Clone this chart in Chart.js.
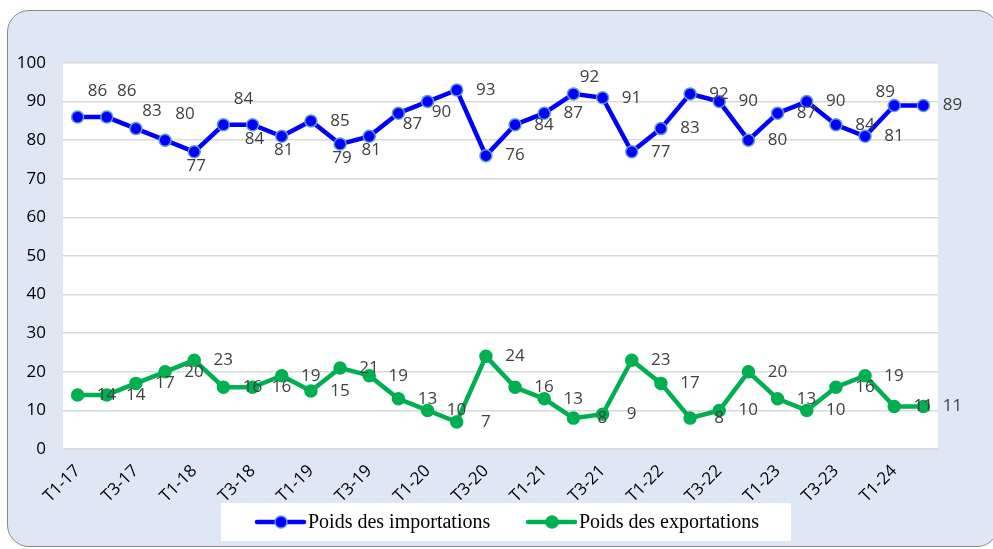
<!DOCTYPE html>
<html>
<head>
<meta charset="utf-8">
<script src="https://cdn.jsdelivr.net/npm/chart.js@4"></script>
<style>
  html, body { margin:0; padding:0; background:#ffffff; width:993px; height:549px; overflow:hidden; }
  #panel { position:absolute; left:7px; top:10px; width:992px; height:537px; background:#dde8f4;
           border:1.5px solid #8a8a8a; border-radius:22px; box-sizing:border-box; }
  #c { position:absolute; left:0; top:0; }
</style>
</head>
<body>
<div id="panel"></div>
<canvas id="c" width="993" height="549"></canvas>
<script>
const categories = [
  'T1-17','T2-17','T3-17','T4-17',
  'T1-18','T2-18','T3-18','T4-18',
  'T1-19','T2-19','T3-19','T4-19',
  'T1-20','T2-20','T3-20','T4-20',
  'T1-21','T2-21','T3-21','T4-21',
  'T1-22','T2-22','T3-22','T4-22',
  'T1-23','T2-23','T3-23','T4-23',
  'T1-24','T2-24'
];
const importWeights = [86,86,83,80,77,84,84,81,85,79,81,87,90,93,76,84,87,92,91,77,83,92,90,80,87,90,84,81,89,89];
const exportWeights = [14,14,17,20,23,16,16,19,15,21,19,13,10,7,24,16,13,8,9,23,17,8,10,20,13,10,16,19,11,11];
const seriesNames = ['Poids des importations','Poids des exportations'];
const yTicks = { min:0, max:100, step:10 };

// label placement keywords (style only)
const importLabelPlacement = ['aboveRight','aboveRight','upRight','aboveRight','below','aboveRight','below','below','right','below',
  'below','belowRight','belowRight','right','right','right','right','upRight','right','right',
  'right','right','right','right','right','right','right','right','aboveLeft','right'];
const placementOffsets = {
  right:[29,0], aboveRight:[20,-26], upRight:[16,-17], below:[2,14], belowRight:[14,11], aboveLeft:[-9,-13]
};

const tickFont = { family:'"Open Sans", "Noto Sans", sans-serif', size:17 };

const bgPlugin = {
  id:'bg',
  beforeDraw(chart){
    const {ctx, chartArea:a} = chart;
    ctx.save(); ctx.fillStyle='#ffffff';
    ctx.fillRect(a.left, a.top, a.right-a.left, a.bottom-a.top);
    ctx.restore();
  }
};

const labelPlugin = {
  id:'vlabels',
  afterDatasetsDraw(chart){
    const ctx = chart.ctx;
    ctx.save();
    ctx.font = '17px "Open Sans", "Noto Sans", sans-serif';
    ctx.fillStyle = '#404040';
    ctx.textAlign = 'center'; ctx.textBaseline = 'middle';
    chart.data.datasets.forEach((ds, di) => {
      const meta = chart.getDatasetMeta(di);
      meta.data.forEach((pt, i) => {
        const key = di === 0 ? importLabelPlacement[i] : 'right';
        const off = placementOffsets[key];
        ctx.fillText(String(ds.data[i]), pt.x + off[0], pt.y + off[1]);
      });
    });
    ctx.restore();
  }
};

const legendPlugin = {
  id:'customLegend',
  afterDraw(chart){
    const ctx = chart.ctx;
    ctx.save();
    ctx.fillStyle = '#ffffff';
    ctx.fillRect(221, 503, 570, 38);
    const items = [{x:257, ds:chart.data.datasets[0]}, {x:528, ds:chart.data.datasets[1]}];
    const y = 522;
    items.forEach(it => {
      ctx.strokeStyle = it.ds.borderColor; ctx.lineWidth = 4.5; ctx.lineCap='round';
      ctx.beginPath(); ctx.moveTo(it.x, y); ctx.lineTo(it.x+47, y); ctx.stroke();
      ctx.beginPath(); ctx.arc(it.x+24, y, 6, 0, Math.PI*2);
      ctx.fillStyle = it.ds.pointBackgroundColor; ctx.fill();
      ctx.lineWidth = 1.5; ctx.strokeStyle = it.ds.pointBorderColor; ctx.stroke();
      ctx.fillStyle = '#000000';
      ctx.font = '20px "Liberation Serif", "Times New Roman", serif';
      ctx.textAlign = 'left'; ctx.textBaseline = 'middle';
      ctx.fillText(it.ds.label, it.x+51, y+1);
    });
    ctx.restore();
  }
};

new Chart(document.getElementById('c'), {
  type:'line',
  data:{
    labels: categories,
    datasets:[
      { label:seriesNames[0], data:importWeights, borderColor:'#0000ff', backgroundColor:'#0000ff',
        borderWidth:4.5, pointRadius:6, pointBackgroundColor:'#0000ff', pointBorderColor:'#5b9bd5',
        pointBorderWidth:1.5, tension:0, clip:false },
      { label:seriesNames[1], data:exportWeights, borderColor:'#00b050', backgroundColor:'#00b050',
        borderWidth:4.5, pointRadius:6, pointBackgroundColor:'#00b050', pointBorderColor:'#00b050',
        pointBorderWidth:1.5, tension:0, clip:false }
    ]
  },
  options:{
    responsive:false, animation:false, devicePixelRatio:1,
    layout:{ padding:{ top:63, right:55, left:0, bottom:0 } },
    plugins:{ legend:{display:false}, tooltip:{enabled:false} },
    scales:{
      x:{
        offset:true,
        grid:{ display:false },
        border:{ display:false },
        ticks:{ autoSkip:false, minRotation:45, maxRotation:45, color:'#000000', font:tickFont, padding:4,
          callback:(v,i)=> i % 2 === 0 ? categories[i] : '' },
        afterFit:(s)=>{ s.height = 100; }
      },
      y:{
        min:yTicks.min, max:yTicks.max,
        grid:{ color:'#d9d9d9', lineWidth:1.5, drawTicks:false },
        border:{ display:false },
        ticks:{ stepSize:yTicks.step, padding:17, color:'#000000', font:tickFont },
        afterFit:(s)=>{ s.width = 63; }
      }
    }
  },
  plugins:[bgPlugin, labelPlugin, legendPlugin]
});
</script>
</body>
</html>
